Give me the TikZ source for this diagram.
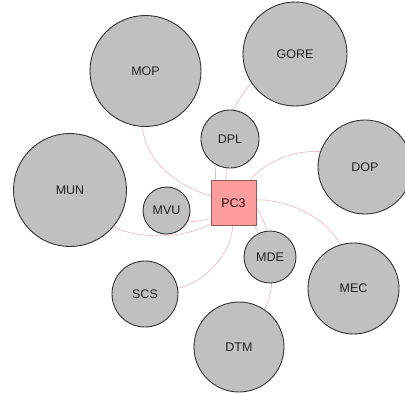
\documentclass[tikz,border=0pt]{standalone}
\usepackage{fontspec}
\setmainfont{Liberation Sans}
\pgfdeclarelayer{paper}
\pgfdeclarelayer{background}
\pgfsetlayers{paper,background,main}
\definecolor{cfill}{HTML}{C0C0C0}
\definecolor{cline}{HTML}{333333}
\definecolor{pfill}{HTML}{FF9C9C}
\definecolor{pline}{HTML}{8E5A5A}
\definecolor{eline}{HTML}{EBB8B8}
\definecolor{txt}{HTML}{222222}
\begin{document}
\begin{tikzpicture}[x=1pt,y=-1pt,
  org/.style={circle,draw=cline,fill=cfill,line width=0.9pt,inner sep=0pt,
    text=txt,font=\fontsize{12.5}{14}\selectfont},
  hub/.style={rectangle,draw=pline,fill=pfill,line width=0.9pt,inner sep=0pt,
    minimum size=45pt,text=txt!70!red!40!black,font=\fontsize{12.5}{14}\selectfont},
  link/.style={draw=eline,line width=0.6pt}]
\useasboundingbox (0,0) rectangle (405,392);
\begin{pgfonlayer}{paper}
\fill[white] (0,0) rectangle (405,392);
\end{pgfonlayer}
\node[org,minimum size=111pt] (MOP) at (145.5,71) {MOP};
\node[org,minimum size=104pt] (GORE) at (295,54) {GORE};
\node[org,minimum size=58pt] (DPL) at (230,139) {DPL};
\node[org,minimum size=94pt] (DOP) at (365,167) {DOP};
\node[org,minimum size=113pt] (MUN) at (70,190) {MUN};
\node[org,minimum size=47pt] (MVU) at (166.5,210.5) {MVU};
\node[hub] (PC3) at (233.5,203) {PC3};
\node[org,minimum size=52pt] (MDE) at (270,257) {MDE};
\node[org,minimum size=66pt] (SCS) at (145,294) {SCS};
\node[org,minimum size=91pt] (MEC) at (353.5,288.5) {MEC};
\node[org,minimum size=90pt] (DTM) at (239,347) {DTM};
\begin{pgfonlayer}{background}
\draw[link] (MOP.267) .. controls +(2,32) and +(-36,-11) .. (PC3.163);
\draw[link] (GORE.214) .. controls +(-14,14) and +(-2,-40) .. (PC3.128);
\draw[link] (DPL.264) .. controls +(-1,5) and +(0,-5) .. (PC3.108);
\draw[link] (DOP.161) .. controls +(-30,-2) and +(12,-15) .. (PC3.54);
\draw[link] (PC3.8) .. controls +(35,0) and +(-12,-25) .. (MEC.107);
\draw[link] (PC3.313) .. controls +(2,3) and +(-2,-3) .. (MDE.117);
\draw[link] (PC3.348) .. controls +(15,20) and +(15,-28) .. (DTM.56);
\draw[link] (PC3.268) .. controls +(-2,30) and +(25,-5) .. (SCS.10);
\draw[link] (MVU.335) .. controls +(8,3) and +(-8,0) .. (PC3.215);
\draw[link] (MUN.320) .. controls +(20,12) and +(-26,16) .. (PC3.222);
\end{pgfonlayer}
\end{tikzpicture}
\end{document}
